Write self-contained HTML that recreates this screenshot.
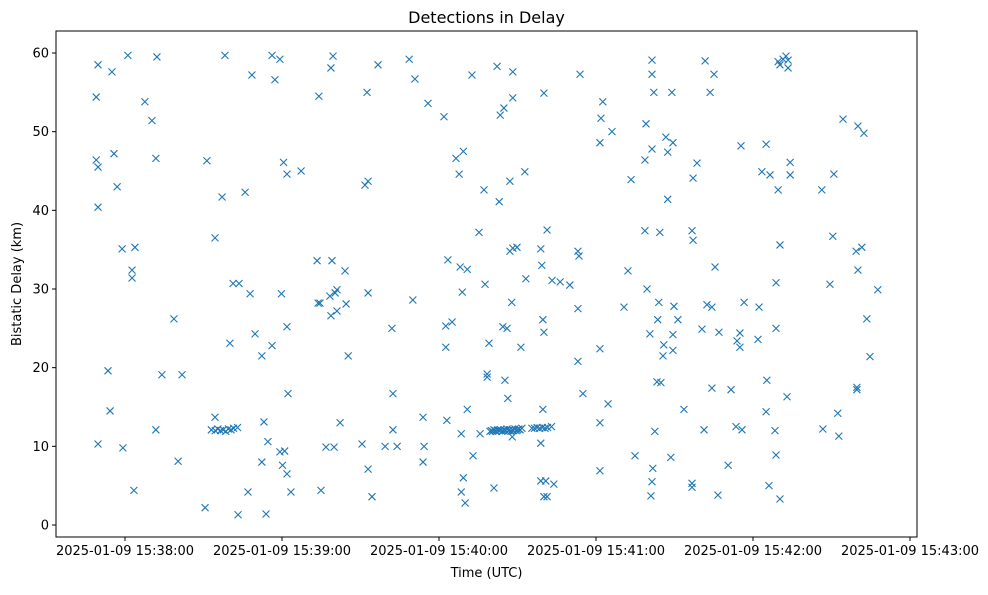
<!DOCTYPE html>
<html><head><meta charset="utf-8"><style>
body{margin:0;background:#fff;}
svg text{font-family:"DejaVu Sans","Liberation Sans",sans-serif;fill:#000;}
</style></head><body>
<svg id="chart" width="988" height="590" xmlns="http://www.w3.org/2000/svg"></svg>
<script>
const timeSeconds = [-11,-11,-10.3,-10.3,-10.3,-10.3,-6.5,-5.7,-5,-4.2,-3,-1.1,-0.8,1.1,2.7,2.7,3.8,3.4,7.6,10.3,11.8,12.2,11.8,14.1,18.7,20.3,21.8,30.6,31.3,34.4,34.4,
33,34.5,35.5,36.5,37.5,38.5,39.5,40.5,41.5,43,
37.1,38.2,40.1,41.3,43.6,43.2,45.9,47,47.8,48.5,49.7,52.3,52.3,53.1,53.9,54.6,56.2,56.2,57.3,59.2,59.2,59.8,60.2,61,60.6,61.9,61.9,61.9,62.3,63.4,67.3,73.4,73.8,74.5,74.1,74.9,76.8,78.3,78.7,78.7,79.1,79.5,79.9,80.3,81,81,82.2,84.1,84.5,85.3,90.6,91.7,92.9,92.9,92.5,92.9,94.4,96.7,99.4,102,102.4,102.4,104,108.6,110,110.8,114.3,113.9,113.9,115.8,121.9,122.6,122.6,123,123.4,125,126.5,127.7,128.1,128.5,128.9,129.3,128.5,129.3,130,130.8,130.8,132.6,133,135.3,135.7,137.2,137.6,138.4,138.4,139.1,141,142.2,143,143.4,144.8,145.2,146.3,146,144.4,147.1,147.1,147.8,148.2,148.2,148.2,149.8,151.3,152.8,153.2,
139.5,140,140.5,141,141.5,142,142.5,143,143.5,144,144.5,145,145.5,146,146.5,147,147.5,148,148.5,149,149.5,150,150.5,151,151.7,148,
158.9,159.3,159.7,160.1,160.1,158.9,159.7,161.3,163.2,166.3,158.9,160.8,160.1,161.3,163.9,
155.5,156.5,157.5,158.5,159.5,160.5,161.5,163,
170,173.1,173.5,173.1,173.9,173.1,175,181.5,181.9,182.6,181.5,181.5,181.5,184.6,186.1,190.7,192.2,193.4,194.9,198.7,199.1,198.7,199.5,200.6,201,201.4,201.4,201.4,201.4,201.7,202.1,202.5,203.3,203.6,204,204.4,204.8,205.6,205.9,206.7,207.4,207.4,208.6,209,209.4,209.4,209.4,209.8,211.3,213.6,216.7,217.1,217.1,216.7,216.7,218.6,220.5,221.3,221.7,222.4,223.6,224.3,224.3,225.1,225.5,227,226.6,230.5,231.6,233.5,233.9,235,235.4,235,235.8,236.6,241.9,242.3,243.4,245,245,245.3,246.1,246.5,248.4,248.8,248.8,248.8,249.6,250.3,250.3,249.6,250.3,251.5,252.6,253.4,253.4,254.2,254.2,253,266.3,266.7,269.4,270.5,270.9,272.4,272.8,274.4,279.4,280.1,280.1,279.7,279.7,281.6,282.4,283.5,284.7,287.7];
const delayKm = [54.4,46.4,45.5,58.5,40.4,10.3,19.6,14.5,57.6,47.2,43,35.1,9.8,59.7,32.4,31.4,35.3,4.4,53.8,51.4,46.6,59.5,12.1,19.1,26.2,8.1,19.1,2.2,46.3,36.5,13.7,
12.1,12,12.2,12,12.1,11.9,12.2,12.1,12.3,12.4,
41.7,59.7,23.1,30.7,30.7,1.3,42.3,4.2,29.4,57.2,24.3,21.5,8,13.1,1.4,10.6,22.8,59.7,56.6,59.2,9.3,29.4,7.6,9.4,46.1,44.6,6.5,25.2,16.7,4.2,45,33.6,28.2,28.2,54.5,4.4,9.9,29.1,26.6,58.1,33.6,59.6,9.9,29.5,27.2,29.9,13,32.3,28.1,21.5,10.3,43.2,43.7,7.1,55,29.5,3.6,58.5,10,25,16.7,12.1,10,59.2,28.6,56.7,10,8,13.7,53.6,51.9,22.6,25.3,13.3,33.7,25.8,46.6,44.6,32.8,4.2,29.6,47.5,11.6,6,2.8,14.7,32.5,57.2,8.8,37.2,11.6,42.6,30.6,19.2,18.8,23.1,4.7,58.3,41.1,52.1,53,18.4,16.1,25,25.2,43.7,34.8,28.3,54.3,57.6,35.2,35.3,22.6,44.9,31.3,
11.9,12,11.9,12.1,12,11.9,12.1,12,12.1,11.9,12,12.1,12,12.2,12,12.1,11.9,12.1,12,12.2,12,12.1,12.2,12.1,12.3,11.2,
35.1,33,26.1,24.5,54.9,10.4,14.7,37.5,31.1,30.9,5.6,5.6,3.6,3.6,5.2,
12.3,12.3,12.4,12.3,12.4,12.3,12.4,12.5,
30.5,34.8,34.2,27.5,57.3,20.8,16.7,48.6,51.7,53.8,22.4,13,6.9,15.4,50,27.7,32.3,43.9,8.8,46.4,51,37.4,30,24.3,3.7,59.1,57.3,47.8,5.5,7.2,55,11.9,18.2,26.1,28.3,37.2,18.1,21.5,22.9,49.3,47.4,41.4,8.6,55,48.6,24.2,22.2,27.8,26.1,14.7,37.4,36.2,44.1,5.3,4.8,46,24.9,12.1,59,28,55,27.7,17.4,57.3,32.8,24.5,3.8,7.6,17.2,12.5,23.4,22.6,48.2,24.4,12.1,28.3,23.6,27.7,44.9,48.4,14.4,18.4,5,44.5,12,8.9,30.8,25,42.6,35.6,3.3,58.9,58.5,59.2,59.6,59.1,58.1,44.5,46.1,16.3,42.6,12.2,30.6,36.7,44.6,14.2,11.3,51.6,34.8,50.7,32.4,17.5,17.2,35.3,49.8,26.2,21.4,29.9];
const xTickSeconds = [0,60,120,180,240,300];
const xTickLabels = ["2025-01-09 15:38:00","2025-01-09 15:39:00","2025-01-09 15:40:00","2025-01-09 15:41:00","2025-01-09 15:42:00","2025-01-09 15:43:00"];
const yTickValues = [0,10,20,30,40,50,60];

const NS="http://www.w3.org/2000/svg";
const svg=document.getElementById('chart');
const L=56,R=917,T=31,B=537;
const xs=t=>125+t*(157/60);
const ys=d=>525-d*(472/60);
function mk(tag,attrs,parent){const e=document.createElementNS(NS,tag);for(const k in attrs)e.setAttribute(k,attrs[k]);(parent||svg).appendChild(e);return e;}

const pts=mk('g',{});


for(let i=0;i<timeSeconds.length;i++){
  const x=xs(timeSeconds[i]),y=ys(delayKm[i]),s=3.5;
  const p=mk('path',{d:`M${x-s},${y-s}L${x+s},${y+s}M${x-s},${y+s}L${x+s},${y-s}`,stroke:'#1f77b4','stroke-width':1.1,fill:'none'},pts);
  
  
}
const frame=mk('rect',{x:L,y:T,width:R-L,height:B-T,fill:'none',stroke:'#000','stroke-width':1});


xTickSeconds.forEach((t,i)=>{
  const x=xs(t);
  mk('line',{x1:x,x2:x,y1:B,y2:B+4,stroke:'#000'});
  const tx=mk('text',{x:x,y:B+18,'text-anchor':'middle','font-size':13});
  tx.textContent=xTickLabels[i];
  
  
});
yTickValues.forEach(v=>{
  const y=ys(v);
  mk('line',{x1:L-4,x2:L,y1:y,y2:y,stroke:'#000'});
  const tx=mk('text',{x:L-7,y:y+4.5,'text-anchor':'end','font-size':13});
  tx.textContent=v;
  
  
});
const title=mk('text',{x:(L+R)/2,y:23,'text-anchor':'middle','font-size':16});
title.textContent='Detections in Delay';


const xl=mk('text',{x:(L+R)/2,y:577,'text-anchor':'middle','font-size':13});
xl.textContent='Time (UTC)';


const yl=mk('text',{x:21,y:(T+B)/2,'text-anchor':'middle','font-size':13,transform:`rotate(-90 21 ${(T+B)/2})`});
yl.textContent='Bistatic Delay (km)';


</script>
</body></html>
